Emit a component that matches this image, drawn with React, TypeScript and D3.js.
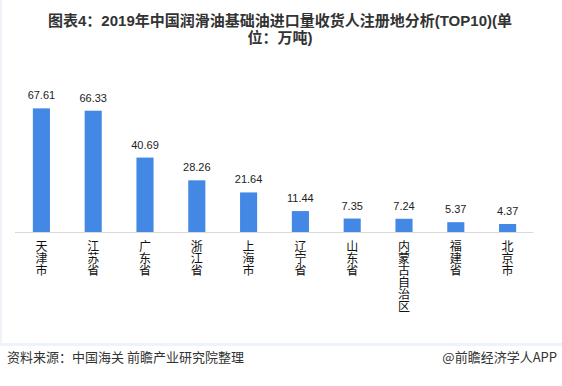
import React from "react";
import * as d3 from "d3";

const categories = ["天津市", "江苏省", "广东省", "浙江省", "上海市", "辽宁省", "山东省", "内蒙古自治区", "福建省", "北京市"];
const values = [67.61, 66.33, 40.69, 28.26, 21.64, 11.44, 7.35, 7.24, 5.37, 4.37];
const titleLines = ["图表4：2019年中国润滑油基础油进口量收货人注册地分析(TOP10)(单", "位：万吨)"];
const sourceText = "资料来源：中国海关 前瞻产业研究院整理";
const brandText = "@前瞻经济学人APP";

const W = 562;
const H = 386;
const latin = "'Liberation Sans', Arial, 'Noto Sans CJK SC', sans-serif";
const cjk = "'Noto Sans CJK SC', 'Liberation Sans', sans-serif";

export default function App() {
  const x = d3.scaleBand<string>().domain(categories).range([15.5, 533.5]).paddingInner(0.67).paddingOuter(0.335);
  const y = d3.scaleLinear().domain([0, 70]).range([232, 104]);
  const base = y(0);

  return (
    <svg width={W} height={H} style={{ position: "absolute", left: 0, top: 0, background: "#fff" }}>
      <rect x={0} y={0} width={W} height={H} fill="#ffffff" />
      <rect x={0} y={0} width={2} height={346} fill="#eef3fa" />
      <rect x={0} y={343} width={W} height={3} fill="#eef3fa" />
      {titleLines.map((t, i) => (
        <text key={i} x={280} y={25.5 + i * 17.5} textAnchor="middle" fontFamily={latin} fontWeight="bold" fontSize={15} fill="#333">
          {t}
        </text>
      ))}
      {categories.map((c, i) => (
        <rect key={c} x={x(c)} y={y(values[i])} width={x.bandwidth()} height={base - y(values[i])} fill="#4388e4" />
      ))}
      <line x1={15} x2={533.5} y1={base + 0.5} y2={base + 0.5} stroke="#d9d9d9" strokeWidth={1} />
      {categories.map((c, i) => (
        <text key={"v" + c} x={(x(c) as number) + x.bandwidth() / 2} y={y(values[i]) - 9} textAnchor="middle" fontFamily={latin} fontSize={11} fill="#222">
          {values[i].toFixed(2)}
        </text>
      ))}
      {categories.map((c) =>
        Array.from(c).map((ch, j) => (
          <text
            key={"c" + c + j}
            x={(x(c) as number) + x.bandwidth() / 2}
            y={250.5 + j * 12}
            textAnchor="middle"
            fontFamily={cjk}
            fontSize={12}
            fill="#111"
          >
            {ch}
          </text>
        ))
      )}
      <text x={7} y={362} fontFamily={cjk} fontSize={13} fill="#333">
        {sourceText}
      </text>
      <text x={557} y={362} textAnchor="end" fontFamily={cjk} fontSize={13} fill="#333">
        {brandText}
      </text>
    </svg>
  );
}
